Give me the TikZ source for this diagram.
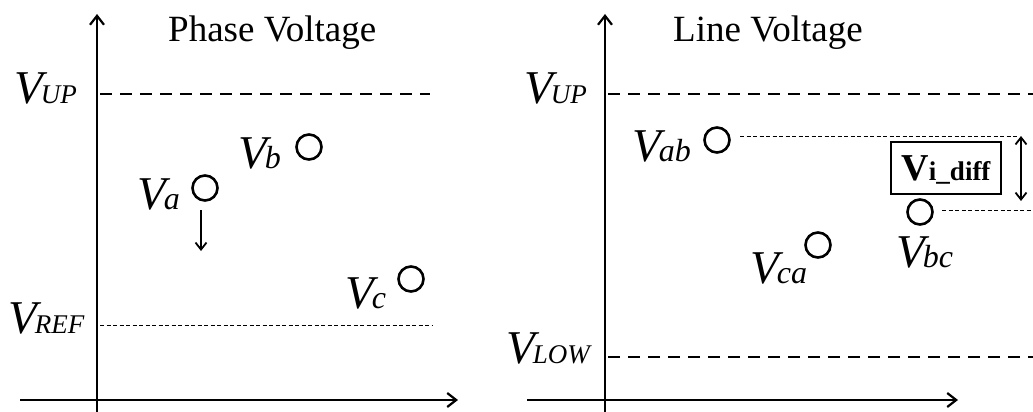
\documentclass[tikz,border=0pt]{standalone}
\usepackage{fontspec}
\setmainfont{Liberation Serif}
\usetikzlibrary{arrows.meta}
\newcommand{\bigV}{{\fontsize{47}{47}\selectfont\itshape V\kern-2pt}}
\newcommand{\subcap}[1]{{\fontsize{27}{27}\selectfont\itshape #1}}
\newcommand{\sublow}[1]{{\fontsize{32}{32}\selectfont\itshape #1}}
\tikzset{
  axis/.style={line width=2.8pt,-{Straight Barb[length=9pt,width=14pt,line width=2.2pt]}},
  levelthick/.style={line width=2.2pt,dash pattern=on 12pt off 8pt},
  levelthin/.style={line width=1pt,dash pattern=on 4pt off 2.5pt},
  pt/.style={draw,circle,line width=2.6pt,minimum size=25pt,inner sep=0pt},
  lab/.style={anchor=base west,inner sep=0pt},
  ttl/.style={anchor=base west,inner sep=0pt,font=\fontsize{37}{37}\selectfont},
  arr/.style={line width=2pt,-{Straight Barb[length=7pt,width=11pt,line width=1.8pt]}},
  darr/.style={line width=2pt,{Straight Barb[length=7pt,width=11pt,line width=1.8pt]}-{Straight Barb[length=7pt,width=11pt,line width=1.8pt]}},
  diffbox/.style={draw,line width=1.3pt,minimum width=110pt,minimum height=52pt,inner sep=0pt}
}
\begin{document}
\begin{tikzpicture}[x=1pt,y=-1pt]
\useasboundingbox (0,0) rectangle (1033,412);
% ---------- left panel ----------
\coordinate (l0) at (97,414);
\coordinate (l1) at (97,14);
\coordinate (lx0) at (20,400);
\coordinate (lx1) at (458,400);
\draw[axis] (l0) -- (l1);
\draw[axis] (lx0) -- (lx1);
\coordinate (lup0) at (100,94);
\coordinate (lup1) at (430,94);
\draw[levelthick] (lup0) -- (lup1);
\coordinate (lref0) at (100,325);
\coordinate (lref1) at (433,325);
\draw[levelthin] (lref0) -- (lref1);
\node[ttl] (t1) at (168,42) {Phase Voltage};
\node[lab] (lupl) at (14,103) {\bigV\subcap{UP}};
\node[lab] (lrefl) at (8,333) {\bigV\subcap{REF}};
\node[pt] (va) at (205,188) {};
\node[pt] (vb) at (309,147) {};
\node[pt] (vc) at (411,279) {};
\node[lab] (val) at (137,209) {\bigV\sublow{a}};
\node[lab] (vbl) at (238,168) {\bigV\sublow{b}};
\node[lab] (vcl) at (345,308) {\bigV\sublow{c}};
\coordinate (a0) at (201,210);
\coordinate (a1) at (201,251);
\draw[arr] (a0) -- (a1);
% ---------- right panel ----------
\coordinate (r0) at (605,414);
\coordinate (r1) at (605,14);
\coordinate (rx0) at (527,400);
\coordinate (rx1) at (958,400);
\draw[axis] (r0) -- (r1);
\draw[axis] (rx0) -- (rx1);
\coordinate (rup0) at (608,94);
\coordinate (rup1) at (1033,94);
\draw[levelthick] (rup0) -- (rup1);
\coordinate (rlow0) at (608,357);
\coordinate (rlow1) at (1033,357);
\draw[levelthick] (rlow0) -- (rlow1);
\node[ttl] (t2) at (673,42) {Line Voltage};
\node[lab] (rupl) at (524,103) {\bigV\subcap{UP}};
\node[lab] (rlowl) at (506,363) {\bigV\subcap{LOW}};
\node[pt] (vab) at (717,140) {};
\node[pt] (vca) at (818,245) {};
\node[pt] (vbc) at (920,212) {};
\node[lab] (vabl) at (632,161) {\bigV\sublow{ab}};
\node[lab] (vcal) at (750,283) {\bigV\sublow{ca}};
\node[lab] (vbcl) at (896,267) {\bigV\sublow{bc}};
\coordinate (d1a) at (740,136);
\coordinate (d1b) at (1018,136);
\draw[levelthin] (d1a) -- (d1b);
\coordinate (d2a) at (942,210);
\coordinate (d2b) at (1033,210);
\draw[levelthin] (d2a) -- (d2b);
\node[diffbox] (box) at (946,168) {};
\node[anchor=base,inner sep=0pt] (boxt) at (946,180) {{\fontsize{38}{38}\selectfont\bfseries V}{\fontsize{27}{27}\selectfont\bfseries i\_diff}};
\coordinate (da) at (1021,136);
\coordinate (db) at (1021,201);
\draw[darr] (da) -- (db);
\end{tikzpicture}
\end{document}
